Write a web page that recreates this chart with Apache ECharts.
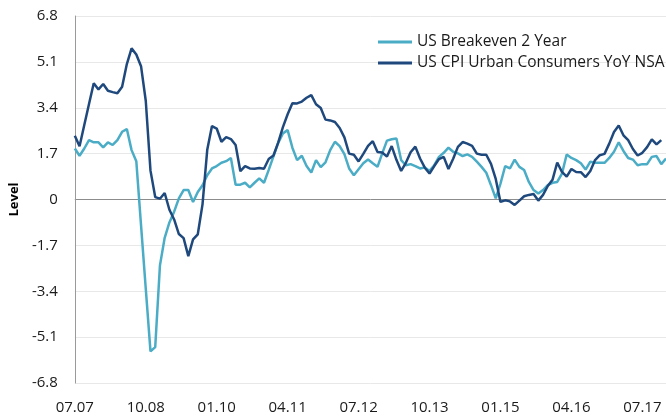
<!DOCTYPE html>
<html>
<head>
<meta charset="utf-8">
<script src="https://cdn.jsdelivr.net/npm/echarts@6/dist/echarts.min.js"></script>
<style>
html,body{margin:0;padding:0;background:#fff;}
#chart{width:666px;height:418px;}
</style>
</head>
<body>
<div id="chart"></div>
<script>
// Monthly categories 07.07 .. 12.17 (tick labels shown every 15 months)
var startYear = 2007, startMonth = 7, monthCount = 126;
var categories = [];
for (var k = 0; k < monthCount; k++) {
  var m = (startMonth - 1 + k) % 12 + 1;
  var y = startYear + Math.floor((startMonth - 1 + k) / 12);
  categories.push((m < 10 ? '0' : '') + m + '.' + String(y).slice(2));
}

var seriesNames = ['US Breakeven 2 Year', 'US CPI Urban Consumers YoY NSA'];

var breakeven2y = [
  1.89, 1.62, 1.89, 2.20, 2.12, 2.12, 1.93, 2.12, 2.02, 2.20, 2.51, 2.61,
  1.83, 1.42, -0.95, -3.30, -5.63, -5.47, -2.44, -1.42, -0.85, -0.45, 0.04, 0.35,
  0.35, -0.09, 0.28, 0.53, 0.90, 1.15, 1.24, 1.36, 1.42, 1.54, 0.55, 0.55,
  0.62, 0.45, 0.62, 0.78, 0.62, 1.10, 1.60, 2.10, 2.45, 2.57, 1.92, 1.46,
  1.62, 1.24, 1.00, 1.46, 1.20, 1.38, 1.83, 2.14, 1.98, 1.68, 1.15, 0.90,
  1.12, 1.34, 1.48, 1.34, 1.21, 1.71, 2.18, 2.23, 2.26, 1.46, 1.27, 1.31,
  1.24, 1.15, 1.19, 1.06, 1.27, 1.58, 1.73, 1.92, 1.77, 1.71, 1.61, 1.67,
  1.58, 1.40, 1.21, 0.99, 0.53, 0.04, 0.59, 1.24, 1.15, 1.48, 1.21, 1.09,
  0.65, 0.35, 0.22, 0.35, 0.53, 0.62, 0.65, 0.96, 1.67, 1.54, 1.46, 1.34,
  1.11, 1.40, 1.36, 1.36, 1.36, 1.54, 1.77, 2.12, 1.80, 1.54, 1.48, 1.27,
  1.31, 1.31, 1.58, 1.61, 1.31, 1.52
];

var cpiYoY = [
  2.36, 1.97, 2.76, 3.54, 4.31, 4.08,
  4.28, 4.03, 3.98, 3.94, 4.18, 5.02, 5.60, 5.37, 4.94, 3.66, 1.07, 0.09,
  0.03, 0.24, -0.38, -0.74, -1.28, -1.43, -2.10, -1.48, -1.29, -0.18, 1.84, 2.72,
  2.63, 2.14, 2.31, 2.24, 2.02, 1.05, 1.24, 1.15, 1.14, 1.17, 1.14, 1.50,
  1.63, 2.11, 2.68, 3.16, 3.57, 3.56, 3.63, 3.77, 3.87, 3.53, 3.39, 2.96,
  2.93, 2.87, 2.65, 2.30, 1.70, 1.66, 1.41, 1.69, 1.99, 2.16, 1.76, 1.74,
  1.59, 1.98, 1.47, 1.06, 1.36, 1.75, 1.96, 1.52, 1.18, 0.96, 1.24, 1.50,
  1.58, 1.13, 1.51, 1.95, 2.13, 2.07, 1.99, 1.70, 1.66, 1.66, 1.32, 0.76,
  -0.09, -0.03, -0.07, -0.20, -0.04, 0.12, 0.17, 0.20, -0.04, 0.17, 0.50, 0.73,
  1.37, 1.02, 0.85, 1.13, 1.02, 1.01, 0.83, 1.06, 1.46, 1.64, 1.69, 2.07,
  2.50, 2.74, 2.38, 2.20, 1.87, 1.63, 1.73, 1.94, 2.23, 2.04, 2.20
];

var yMin = -6.8, yMax = 6.8, yStep = 1.7;

var FONT = 'Open Sans';
var chart = echarts.init(document.getElementById('chart'), null, {renderer: 'canvas'});
var grid = '#e8e8e8';
chart.setOption({
  animation: false,
  backgroundColor: '#ffffff',
  grid: {left: 69, right: 0, top: 16, bottom: 35, containLabel: false},
  legend: {
    orient: 'vertical',
    left: 373, top: 29,
    itemWidth: 34, itemHeight: 3, itemGap: 5,
    icon: 'rect',
    data: seriesNames,
    textStyle: {fontFamily: FONT, fontSize: 15.5, color: '#1a1a1a'}
  },
  xAxis: {
    type: 'category',
    data: categories,
    boundaryGap: false,
    axisLine: {show: false, onZero: false},
    axisTick: {show: false},
    splitLine: {show: false},
    axisLabel: {
      interval: 14, margin: 17,
      fontFamily: FONT, fontSize: 15, color: '#1a1a1a'
    }
  },
  yAxis: {
    type: 'value',
    min: yMin, max: yMax, interval: yStep,
    name: 'Level',
    nameLocation: 'middle',
    nameGap: 53,
    nameTextStyle: {fontFamily: FONT, fontSize: 13, fontWeight: 'bold', color: '#000'},
    axisLine: {show: true, lineStyle: {color: '#9a9a9a', width: 1}},
    axisTick: {show: false},
    axisLabel: {
      margin: 17, fontFamily: FONT, fontSize: 15, color: '#1a1a1a',
      formatter: function (v) { return String(+v.toFixed(1)); }
    },
    splitLine: {show: true, lineStyle: {color: [grid, grid, grid, grid, '#8c8c8c', grid, grid, grid, grid], width: 1}}
  },
  series: [
    {
      name: seriesNames[0], type: 'line', data: breakeven2y,
      showSymbol: false, symbol: 'none',
      lineStyle: {color: '#4BACC6', width: 2.5},
      itemStyle: {color: '#4BACC6'},
      z: 2
    },
    {
      name: seriesNames[1], type: 'line', data: cpiYoY,
      showSymbol: false, symbol: 'none',
      lineStyle: {color: '#1F497D', width: 2.5},
      itemStyle: {color: '#1F497D'},
      z: 3
    }
  ]
});
</script>
</body>
</html>
